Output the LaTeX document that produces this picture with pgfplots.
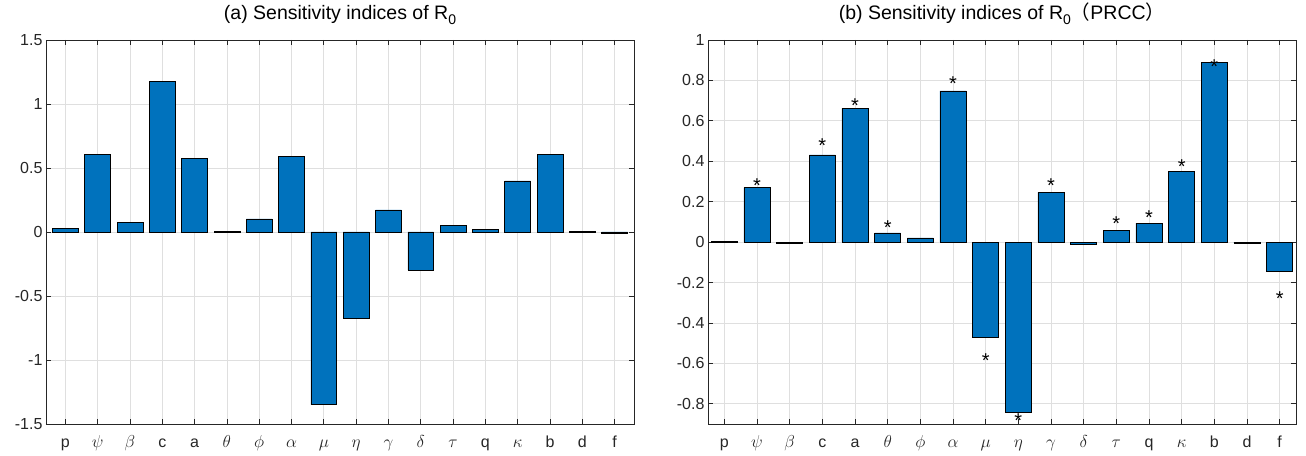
\documentclass[border=0pt]{standalone}
\usepackage{pgfplots}
\pgfplotsset{compat=1.18}
\usepackage{fontspec}
\setmainfont{Liberation Sans}
\newfontfamily\cjk{Noto Sans CJK SC}
\definecolor{mbar}{HTML}{0072BD}
\definecolor{axgray}{HTML}{262626}
\definecolor{grd}{HTML}{DFDFDF}

\pgfplotstableread{
x y
1 0.026
2 0.604
3 0.073
4 1.175
5 0.575
6 0.004
7 0.102
8 0.588
9 -1.348
10 -0.672
11 0.173
12 -0.298
13 0.050
14 0.021
15 0.399
16 0.604
17 0.002
18 -0.012
}\dataA

\pgfplotstableread{
x y
1 0.003
2 0.269
3 -0.005
4 0.431
5 0.662
6 0.046
7 0.021
8 0.748
9 -0.471
10 -0.843
11 0.246
12 -0.010
13 0.059
14 0.094
15 0.348
16 0.888
17 -0.005
18 -0.142
}\dataB

\pgfplotstableread{
x y
2 0.299
4 0.497
5 0.698
6 0.092
8 0.807
9 -0.564
10 -0.861
11 0.302
13 0.114
14 0.142
15 0.396
16 0.888
18 -0.261
}\starsB

\pgfplotsset{
  mstyle/.style={
    scale only axis,
    width=588pt, height=384pt,
    axis line style={color=axgray, line width=0.8pt},
    tick style={color=axgray, line width=0.7pt},
    tick align=inside,
    major tick length=5pt,
    xmajorgrids, ymajorgrids,
    major grid style={color=grd, line width=0.7pt},
    xtick={1,...,18},
    xticklabels={p,$\psi$,$\beta$,c,a,$\theta$,$\phi$,$\alpha$,$\mu$,$\eta$,$\gamma$,$\delta$,$\tau$,q,$\kappa$,b,d,f},
    tick label style={font=\fontsize{16}{18}\selectfont, text=axgray},
    /pgf/number format/assume math mode=true,
    xticklabel style={anchor=base, yshift=-23pt},
    title style={font=\fontsize{19.5}{22}\selectfont, text=black, at={(0.5,1)}, anchor=base, yshift=14pt},
  }
}

\begin{document}
\begin{tikzpicture}
\begin{axis}[mstyle,
  at={(0,0)}, anchor=south west,
  xmin=0.4, xmax=18.6,
  ymin=-1.5, ymax=1.5,
  ytick={-1.5,-1,-0.5,0,0.5,1,1.5},
  yticklabels={-1.5,-1,-0.5,0,0.5,1,1.5},
  title={(a) Sensitivity indices of R\raisebox{-0.45ex}{\fontsize{14}{15}\selectfont 0}},
]
\addplot[ybar, bar width=0.8, bar shift=0pt, fill=mbar, draw=black, line width=0.6pt] table[x=x,y=y] {\dataA};
\end{axis}

\begin{axis}[mstyle,
  at={(662pt,0)}, anchor=south west,
  xmin=0.5, xmax=18.5,
  ymin=-0.9, ymax=1,
  ytick={-0.8,-0.6,-0.4,-0.2,0,0.2,0.4,0.6,0.8,1},
  yticklabels={-0.8,-0.6,-0.4,-0.2,0,0.2,0.4,0.6,0.8,1},
  title={(b) Sensitivity indices of R\raisebox{-0.45ex}{\fontsize{14}{15}\selectfont 0}{\cjk （}PRCC{\cjk ）}},
]
\addplot[ybar, bar width=0.8, bar shift=0pt, fill=mbar, draw=black, line width=0.6pt] table[x=x,y=y] {\dataB};
\addplot[draw=none, mark=none, nodes near coords={*}, nodes near coords style={anchor=center, inner sep=0pt, yshift=-4.2pt, font=\fontsize{20}{22}\selectfont, text=black}] table[x=x,y=y] {\starsB};
\end{axis}
\pgfresetboundingbox
\useasboundingbox (-46pt,-31pt) rectangle (1260pt,424pt);
\end{tikzpicture}
\end{document}
